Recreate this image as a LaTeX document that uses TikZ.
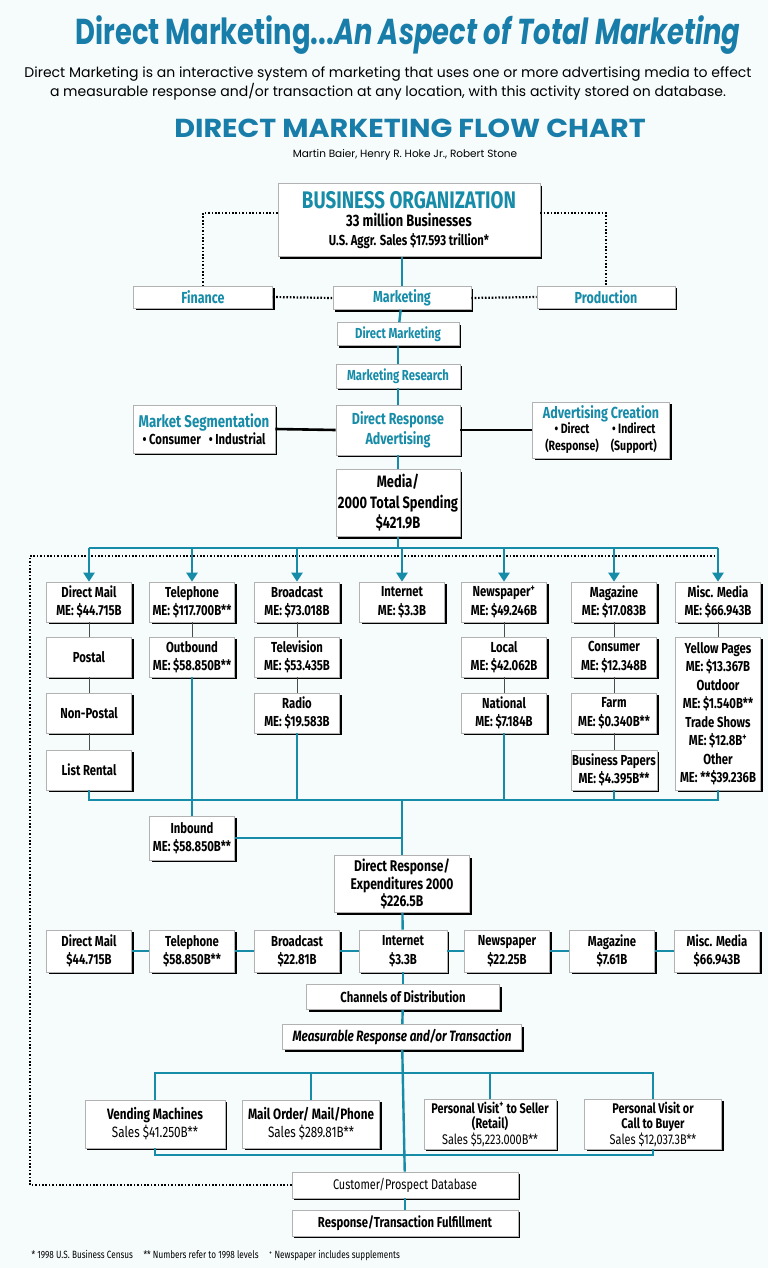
\documentclass[tikz,border=0pt]{standalone}
\usepackage{fontspec}
\usepackage{xcolor}
\usepackage{tikz}
\usetikzlibrary{arrows.meta, shadows}

\newfontfamily\titlefont[FakeStretch=0.76]{Poppins}
\newfontfamily\headfont[FakeStretch=1.1]{Poppins}
\newfontfamily\plainfont{Poppins}
\newfontfamily\boxfont[FakeStretch=0.78]{Fira Sans}
\definecolor{dmteal}{RGB}{22,140,168}
\definecolor{dmtitle}{RGB}{25,125,170}
\definecolor{paper}{RGB}{246,251,251}

\begin{document}
\begin{tikzpicture}[
  x=1pt, y=-1pt,
  box/.style={
    rectangle, draw=gray!60, line width=0.6pt, fill=white,
    drop shadow={shadow xshift=2.2pt, shadow yshift=-2.2pt, fill=black, opacity=1},
    font=\boxfont\bfseries\fontsize{14.5}{18.5}\selectfont,
    align=center, inner sep=1pt, minimum width=85pt, minimum height=40pt
  },
  tbox/.style={box, text=dmteal},
  link/.style={dmteal, line width=2.4pt},
  thinlink/.style={black!70, line width=0.8pt},
  blink/.style={black, line width=2.6pt},
  dotline/.style={black, line width=2.2pt, dash pattern=on 1.6pt off 1.8pt},
  arrow/.style={link, -{Triangle[width=11pt,length=9pt]}}
]
\fill[paper] (0,0) rectangle (768,1268);
\useasboundingbox (0,0) rectangle (768,1268);

% --- Headings ---
\node[font=\titlefont\bfseries\fontsize{36}{40}\selectfont, text=dmtitle] (title) at (408,35)
  {Direct Marketing...\textit{An Aspect of Total Marketing}};
\node[font=\plainfont\fontsize{14}{19}\selectfont, align=center] (subtitle) at (388,83)
  {Direct Marketing is an interactive system of marketing that uses one or more advertising media to effect\\
   a measurable response and/or transaction at any location, with this activity stored on database.};
\node[font=\headfont\bfseries\fontsize{26}{28}\selectfont, text=dmtitle] (charttitle) at (410,128)
  {DIRECT MARKETING FLOW CHART};
\node[font=\plainfont\fontsize{10.5}{12}\selectfont] (authors) at (405,155)
  {Martin Baier, Henry R. Hoke Jr., Robert Stone};

% --- Row 0: organization ---
\node[box, minimum width=262pt, minimum height=73pt] (busorg) at (409,220)
  {\textcolor{dmteal}{\fontsize{24}{26}\selectfont BUSINESS ORGANIZATION}\\
   \fontsize{16.5}{21}\selectfont 33 million Businesses\\ U.S. Aggr. Sales \$17.593 trillion*};
\node[tbox, minimum width=139pt, minimum height=22pt, font=\boxfont\bfseries\fontsize{16}{18}\selectfont]
  (finance) at (203,297) {Finance};
\node[tbox, minimum width=138pt, minimum height=23pt, font=\boxfont\bfseries\fontsize{16}{18}\selectfont]
  (mktg) at (402,298) {Marketing};
\node[tbox, minimum width=138pt, minimum height=22pt, font=\boxfont\bfseries\fontsize{16}{18}\selectfont]
  (prod) at (606,297) {Production};

% --- Row 1: marketing chain ---
\node[tbox, minimum width=122pt, minimum height=23pt] (dm)  at (398,334) {Direct Marketing};
\node[tbox, minimum width=124pt, minimum height=24pt] (mr)  at (398,376) {Marketing Research};
\node[tbox, minimum width=124pt, minimum height=50pt, font=\boxfont\bfseries\fontsize{16}{20}\selectfont]
  (dra) at (398,430) {Direct Response\\Advertising};
\node[box, minimum width=142pt, minimum height=48pt, font=\boxfont\bfseries\fontsize{14.5}{17}\selectfont]
  (mseg) at (204,429)
  {\textcolor{dmteal}{\fontsize{17}{17}\selectfont Market Segmentation}\\
   \textbullet\ Consumer\hspace{8pt}\textbullet\ Industrial};
\node[box, minimum width=137pt, minimum height=56pt, font=\boxfont\bfseries\fontsize{16}{16}\selectfont]
  (adcr) at (601,430)
  {\textcolor{dmteal}{Advertising Creation}\\
   \fontsize{13.5}{15}\selectfont
   \begin{tabular}{@{}c@{\hspace{12pt}}c@{}}\textbullet\ Direct & \textbullet\ Indirect\\ (Response) & (Support)\end{tabular}};
\node[box, minimum width=124pt, minimum height=67pt, font=\boxfont\bfseries\fontsize{16.5}{20.5}\selectfont]
  (media) at (398,503) {Media/\\2000 Total Spending\\\$421.9B};

% --- Row 2: media columns ---
\node[box] (dmail) at (89,602)  {Direct Mail\\ME: \$44.715B};
\node[box] (tel)   at (192,602) {Telephone\\ME: \$117.700B**};
\node[box] (bcast) at (297,602) {Broadcast\\ME: \$73.018B};
\node[box] (inet)  at (402,602) {Internet\\ME: \$3.3B};
\node[box] (news)  at (504,602) {Newspaper\textsuperscript{+}\\ME: \$49.246B};
\node[box] (mag)   at (614,602) {Magazine\\ME: \$17.083B};
\node[box] (misc)  at (718,602) {Misc. Media\\ME: \$66.943B};

\node[box] (postal)    at (89,657)  {Postal};
\node[box] (nonpostal) at (89,713)  {Non-Postal};
\node[box] (listrent)  at (89,770)  {List Rental};
\node[box] (outb)      at (192,657) {Outbound\\ME: \$58.850B**};
\node[box] (tv)        at (297,657) {Television\\ME: \$53.435B};
\node[box] (radio)     at (297,713) {Radio\\ME: \$19.583B};
\node[box] (local)     at (504,657) {Local\\ME: \$42.062B};
\node[box] (natl)      at (504,713) {National\\ME: \$7.184B};
\node[box] (cons)      at (614,657) {Consumer\\ME: \$12.348B};
\node[box] (farm)      at (614,713) {Farm\\ME: \$0.340B**};
\node[box] (bizpap)    at (614,770) {Business Papers\\ME: \$4.395B**};
\node[box, minimum height=153pt] (miscsub) at (718,713.5)
  {Yellow Pages\\ME: \$13.367B\\Outdoor\\ME: \$1.540B**\\Trade Shows\\ME: \$12.8B\textsuperscript{+}\\Other\\ME: **\$39.236B};

% --- Row 3: response expenditures ---
\node[box, minimum height=44pt] (inbound) at (192,838) {Inbound\\ME: \$58.850B**};
\node[box, minimum width=135pt, minimum height=57pt, font=\boxfont\bfseries\fontsize{15.5}{17.5}\selectfont]
  (drexp) at (402,884) {Direct Response/\\Expenditures 2000\\\$226.5B};

\node[box, minimum height=42pt] (bdmail) at (89,951)  {Direct Mail\\\$44.715B};
\node[box, minimum height=42pt] (btel)   at (192,951) {Telephone\\\$58.850B**};
\node[box, minimum height=42pt] (bbcast) at (297,951) {Broadcast\\\$22.81B};
\node[box, minimum height=42pt, minimum width=88pt] (binet) at (403,951) {Internet\\\$3.3B};
\node[box, minimum height=42pt] (bnews)  at (507,951) {Newspaper\\\$22.25B};
\node[box, minimum height=42pt] (bmag)   at (612,951) {Magazine\\\$7.61B};
\node[box, minimum height=42pt] (bmisc)  at (717,951) {Misc. Media\\\$66.943B};

% --- Row 4: distribution ---
\node[box, minimum width=193pt, minimum height=25pt] (chan) at (403,997) {Channels of Distribution};
\node[box, minimum width=239pt, minimum height=25pt, font=\boxfont\bfseries\itshape\fontsize{15}{17}\selectfont]
  (meas) at (402,1037) {Measurable Response and/or Transaction};

\node[box, minimum width=140pt, minimum height=48pt, font=\boxfont\bfseries\fontsize{15}{18}\selectfont]
  (vend) at (155,1124) {Vending Machines\\\mdseries Sales \$41.250B**};
\node[box, minimum width=137pt, minimum height=48pt, font=\boxfont\bfseries\fontsize{15}{18}\selectfont]
  (mail) at (311,1124) {Mail Order/ Mail/Phone\\\mdseries Sales \$289.81B**};
\node[box, minimum width=132pt, minimum height=50pt, font=\boxfont\bfseries\fontsize{14}{15.5}\selectfont]
  (pvs) at (490,1124) {Personal Visit\textsuperscript{+} to Seller\\(Retail)\\\mdseries Sales \$5,223.000B**};
\node[box, minimum width=137pt, minimum height=50pt, font=\boxfont\bfseries\fontsize{14}{15.5}\selectfont]
  (pvc) at (653,1124) {Personal Visit or\\Call to Buyer\\\mdseries Sales \$12,037.3B**};

% --- Row 5: database ---
\node[box, minimum width=226pt, minimum height=26pt, font=\boxfont\fontsize{14}{16}\selectfont]
  (custdb) at (405,1185) {Customer/Prospect Database};
\node[box, minimum width=226pt, minimum height=26pt] (fulfil) at (405,1223) {Response/Transaction Fulfillment};

\node[font=\boxfont\fontsize{10.5}{12}\selectfont, anchor=west] (footnote) at (28,1256)
  {* 1998 U.S. Business Census\quad ** Numbers refer to 1998 levels\quad \textsuperscript{+} Newspaper includes supplements};

% Bus points
\coordinate (busT) at (0,548);
\coordinate (fbtop) at (30,556);
\coordinate (busB) at (0,800);
\coordinate (brT) at (0,1073);
\coordinate (brB) at (0,1155);

% Connectors: organization
\draw[dotline] ([yshift=7pt]busorg.west) -| (finance.north);
\draw[dotline] ([yshift=7pt]busorg.east) -| (prod.north);
\draw[dotline] (finance.east) -- (mktg.west);
\draw[dotline] (mktg.east) -- (prod.west);
\draw[link] (mktg.north |- busorg.south) -- (mktg.north);
\draw[link] (mktg) -- (dm);
\draw[link] (dm) -- (mr);
\draw[link] (mr) -- (dra);
\draw[link] (dra) -- (media);
\draw[blink] (mseg.east) -- (dra.west);
\draw[blink] (dra.east) -- (adcr.west);

% Feedback from database
\draw[dotline] (custdb.west) -| (fbtop) -- (misc.north |- fbtop);

% Media bus
\draw[link] (media.south) -- (media.south |- busT);
\draw[link] (dmail.north |- busT) -- (misc.north |- busT);
\foreach \n in {dmail,tel,bcast,inet,news,mag,misc}
  \draw[arrow] (\n.north |- busT) -- (\n.north);

% Column links
\draw[thinlink] (dmail) -- (postal);
\draw[thinlink] (postal) -- (nonpostal);
\draw[thinlink] (nonpostal) -- (listrent);
\draw[thinlink] (tel) -- (outb);
\draw[thinlink] (bcast) -- (tv);
\draw[thinlink] (tv) -- (radio);
\draw[thinlink] (news) -- (local);
\draw[thinlink] (local) -- (natl);
\draw[thinlink] (mag) -- (cons);
\draw[thinlink] (cons) -- (farm);
\draw[thinlink] (farm) -- (bizpap);
\draw[thinlink] (misc) -- (miscsub);

% Collecting bus
\draw[link] (listrent.south) -- (listrent.south |- busB) -- (miscsub.south |- busB) -- (miscsub.south);
\draw[link] (outb.south) -- (inbound.north);
\draw[link] (radio.south) -- (radio.south |- busB);
\draw[link] (natl.south) -- (natl.south |- busB);
\draw[link] (bizpap.south) -- (bizpap.south |- busB);
\draw[link] (drexp.north |- busB) -- (drexp.north);
\draw[link] (inbound.east) -- (drexp.north |- inbound.east);

% Response row
\draw[link] (drexp) -- (binet);
\draw[link] (bdmail) -- (btel);
\draw[link] (btel) -- (bbcast);
\draw[link] (bbcast) -- (binet);
\draw[link] (binet) -- (bnews);
\draw[link] (bnews) -- (bmag);
\draw[link] (bmag) -- (bmisc);
\draw[link] (binet) -- (chan);
\draw[link] (chan) -- (meas);
\draw[link] (meas) -- (custdb);
\draw[link] (custdb) -- (fulfil);

% Channel bracket
\draw[link] (vend.north) -- (vend.north |- brT) -- (pvc.north |- brT) -- (pvc.north);
\draw[link] (mail.north |- brT) -- (mail.north);
\draw[link] (pvs.north |- brT) -- (pvs.north);
\draw[link] (vend.south) -- (vend.south |- brB) -- (pvc.south |- brB) -- (pvc.south);

\end{tikzpicture}
\end{document}
